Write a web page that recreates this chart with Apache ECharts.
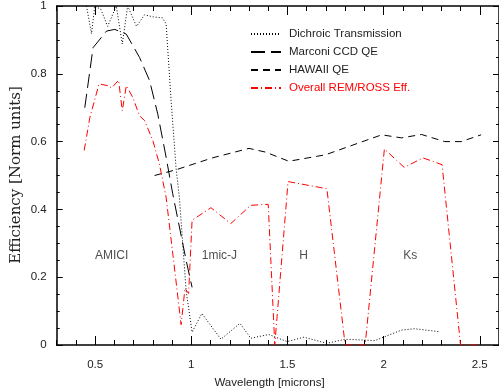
<!DOCTYPE html>
<html><head><meta charset="utf-8">
<script src="https://cdn.jsdelivr.net/npm/echarts@6/dist/echarts.min.js"></script>
<style>html,body{margin:0;padding:0;background:#fff}#c{width:499px;height:392px}</style>
</head><body><div id="c"></div>
<script>
// Data: [wavelength (microns), efficiency]
var dichroic = [[0.455,1.0],[0.481,0.918],[0.498,1.0],[0.53,0.99],[0.565,0.94],[0.61,1.0],[0.641,0.888],[0.669,1.0],[0.715,0.94],[0.757,0.974],[0.80,0.968],[0.85,0.965],[0.869,0.947],[0.895,0.72],[0.921,0.52],[0.938,0.435],[0.973,0.16],[1.004,0.038],[1.055,0.093],[1.154,0.017],[1.253,0.064],[1.309,0.02],[1.403,0.031],[1.498,0.01],[1.585,0.023],[1.705,0.005],[1.80,0.017],[1.955,0.013],[2.093,0.044],[2.162,0.048],[2.292,0.039]];
var marconi = [[0.446,0.70],[0.489,0.877],[0.559,0.926],[0.602,0.931],[0.662,0.917],[0.731,0.848],[0.783,0.78],[0.826,0.68],[0.869,0.554],[0.903,0.447],[0.973,0.25],[1.004,0.17]];
var hawaii = [[0.809,0.50],[0.921,0.517],[1.110,0.552],[1.30,0.58],[1.386,0.569],[1.507,0.542],[1.697,0.561],[1.990,0.62],[2.093,0.611],[2.197,0.621],[2.318,0.60],[2.403,0.60],[2.507,0.62]];
var overall = [[0.443,0.574],[0.472,0.67],[0.520,0.77],[0.567,0.765],[0.585,0.758],[0.622,0.781],[0.641,0.691],[0.662,0.765],[0.696,0.73],[0.731,0.676],[0.757,0.662],[0.800,0.603],[0.834,0.534],[0.869,0.436],[0.947,0.06],[0.967,0.167],[0.986,0.152],[1.004,0.368],[1.102,0.405],[1.205,0.358],[1.309,0.412],[1.40,0.415],[1.434,0.0],[1.503,0.482],[1.705,0.461],[1.80,0.0],[1.904,0.0],[2.004,0.578],[2.107,0.524],[2.205,0.552],[2.304,0.532],[2.40,0.0],[2.507,0.0]];
var bandNames = ['AMICI','1mic-J','H','Ks'];
var bandX = [0.586,1.146,1.584,2.138];
var bandY = [0.262,0.262,0.262,0.262];
var xMajorTicks = [0.5,1,1.5,2,2.5];
var seriesNames = ['Dichroic Transmission','Marconi CCD QE','HAWAII QE','Overall REM/ROSS Eff.'];

var chart = echarts.init(document.getElementById('c'), null, {renderer:'canvas'});
var FONT = 'Liberation Sans';
var axisLineStyle = {color:'#000', width:1.5};
function xAx(pos, major, labels){
  var o = {type:'value', position:pos, min:0.3, max:2.6, splitLine:{show:false},
    axisLine:{show:major, onZero:false, lineStyle:axisLineStyle},
    axisLabel:{show:false}};
  if (major) {
    o.axisTick = {show:true, inside:true, length:9, customValues:xMajorTicks, lineStyle:{color:'#000',width:1}};
    if (labels) o.axisLabel = {show:true, customValues:xMajorTicks, margin:14, fontFamily:FONT, fontSize:11.5, color:'#222',
      formatter:function(v){return String(+v.toFixed(1));}};
  } else {
    o.interval = 0.1;
    o.axisTick = {show:true, inside:true, length:5, lineStyle:{color:'#000',width:1}};
  }
  return o;
}
function yAx(pos, labels){
  return {type:'value', position:pos, min:0, max:1, interval:0.2, splitLine:{show:false},
    axisLine:{show:true, onZero:false, lineStyle:axisLineStyle},
    axisTick:{show:true, inside:true, length:6, lineStyle:{color:'#000',width:1}},
    minorTick:{show:true, splitNumber:4, length:3, lineStyle:{color:'#000',width:1}},
    minorSplitLine:{show:false},
    axisLabel:{show:labels, margin:10, fontFamily:FONT, fontSize:11.5, color:'#222',
      formatter:function(v){return String(+v.toFixed(1));}}};
}
var annot = bandNames.map(function(n,i){return {name:n, value:[bandX[i], bandY[i]]};});
var option = {
  animation:false,
  backgroundColor:'#fff',
  grid:{left:56.7, right:-3, top:5, bottom:47, containLabel:false},
  xAxis:[xAx('bottom',true,true), xAx('bottom',false,false), xAx('top',true,false), xAx('top',false,false)],
  yAxis:[yAx('left',true), yAx('right',false)],
  legend:{
    orient:'vertical', left:250, top:28, padding:0, itemWidth:30, itemHeight:2, itemGap:6,
    itemStyle:{color:'rgba(0,0,0,0)', borderWidth:0, opacity:0},
    textStyle:{fontFamily:FONT, fontSize:11.5, color:'#222', padding:[0,0,0,3]},
    data:[
      {name:seriesNames[0]},
      {name:seriesNames[1]},
      {name:seriesNames[2]},
      {name:seriesNames[3], textStyle:{color:'#ff0000'}}
    ]
  },
  graphic:[
    {type:'text', x:269.5, y:382.5, silent:true, style:{text:'Wavelength [microns]', font:'11.5px "Liberation Sans"', fill:'#222', align:'center', verticalAlign:'middle'}},
    {type:'text', x:16, y:175, rotation:Math.PI/2, silent:true, style:{text:'Efficiency [Norm units]', font:'15px "DejaVu Serif"', fill:'#222', align:'center', verticalAlign:'middle'}}
  ],
  series:[
    {name:seriesNames[0], type:'line', data:dichroic, symbol:'none', showSymbol:false, xAxisIndex:0, yAxisIndex:0,
      lineStyle:{color:'#000', width:1, type:[1,2]}, itemStyle:{color:'#000'}},
    {name:seriesNames[1], type:'line', data:marconi, symbol:'none', showSymbol:false, xAxisIndex:0, yAxisIndex:0,
      lineStyle:{color:'#000', width:1, type:[14,6]}, itemStyle:{color:'#000'}},
    {name:seriesNames[2], type:'line', data:hawaii, symbol:'none', showSymbol:false, xAxisIndex:0, yAxisIndex:0,
      lineStyle:{color:'#000', width:1, type:[7,5]}, itemStyle:{color:'#000'}},
    {name:seriesNames[3], type:'line', data:overall, symbol:'none', showSymbol:false, xAxisIndex:0, yAxisIndex:0,
      lineStyle:{color:'#ff0000', width:1, type:[7,3,1,3]}, itemStyle:{color:'#ff0000'}},
    {name:'bands', type:'scatter', data:annot, symbolSize:0, xAxisIndex:0, yAxisIndex:0, silent:true,
      label:{show:true, position:'inside', formatter:'{b}', fontFamily:FONT, fontSize:12, color:'#222'}}
  ]
};
chart.setOption(option);
</script></body></html>
